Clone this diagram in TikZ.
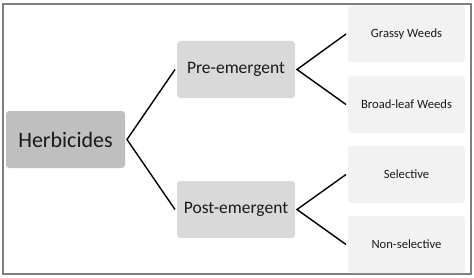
\documentclass[tikz,border=0pt]{standalone}
\usepackage{fontspec}
\setmainfont{Carlito}
\usepackage{xcolor}
\usetikzlibrary{positioning}
\definecolor{rootgray}{HTML}{BFBFBF}
\definecolor{midgray}{HTML}{D9D9D9}
\definecolor{leafgray}{HTML}{F2F2F2}
\definecolor{framegray}{HTML}{7F7F7F}
\definecolor{ink}{HTML}{1A1A1A}

\begin{document}
\begin{tikzpicture}[x=1pt, y=-1pt,
  box/.style={rounded corners=3pt, minimum width=118pt, minimum height=57pt, inner sep=0pt, outer sep=2pt, text=ink},
  link/.style={line width=1.4pt}]
  \useasboundingbox (0,0) rectangle (474,278);
  \draw[framegray, line width=1.2pt] (3,4) rectangle (471,274);

  % root and the two timings
  \node[box, fill=rootgray, minimum width=119pt, font=\fontsize{22}{24}\selectfont] (herb) at (65.5,139.5) {Herbicides};
  \node[box, fill=midgray, font=\fontsize{17.5}{20}\selectfont] (pre) at (236,69.5) {Pre-emergent};
  \node[box, fill=midgray, font=\fontsize{17.5}{20}\selectfont] (post) at (236,209.5) {Post-emergent};

  % leaves
  \foreach \y/\name/\lab in {
    34/grassy/{Grassy Weeds},
    104.5/broad/{Broad-leaf Weeds},
    174.5/sel/{Selective},
    244.5/nonsel/{Non-selective}
  } {
    \node[box, fill=leafgray, minimum width=117pt, font=\fontsize{12.6}{15}\selectfont] (\name) at (406.5,\y) {\lab};
  }

  \draw[link] (pre.west) -- (herb.east) -- (post.west);
  \draw[link] (grassy.west) -- (pre.east) -- (broad.west);
  \draw[link] (sel.west) -- (post.east) -- (nonsel.west);
\end{tikzpicture}
\end{document}
